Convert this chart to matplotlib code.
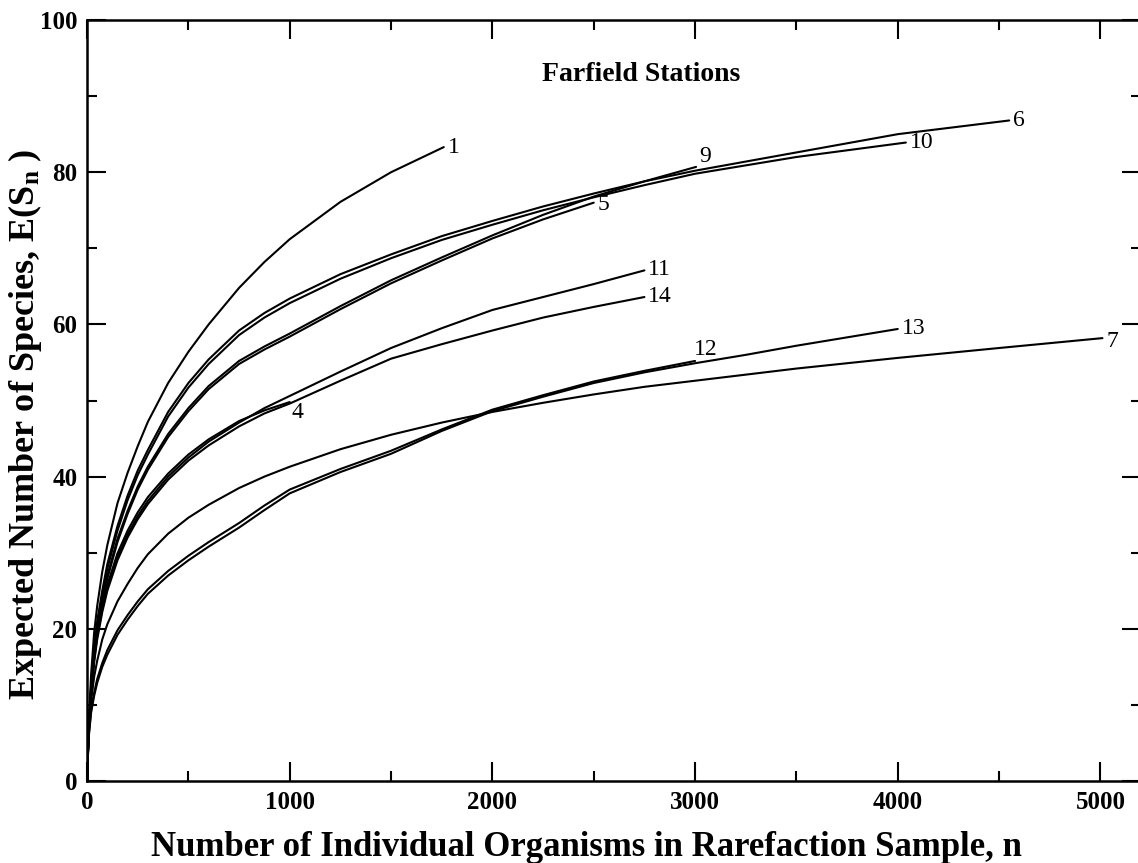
import matplotlib
matplotlib.use("Agg")
import matplotlib.pyplot as plt

plt.rcParams['font.family'] = ['Liberation Serif', 'DejaVu Serif']
plt.rcParams['mathtext.fontset'] = 'custom'
plt.rcParams['mathtext.rm'] = 'Liberation Serif:bold'
plt.rcParams['mathtext.it'] = 'Liberation Serif:bold'
plt.rcParams['mathtext.bf'] = 'Liberation Serif:bold'

# rarefaction curves: sample size n -> E(S_n)
lo = [0, 5, 10, 20, 35, 50, 75, 100, 150, 200, 250, 300, 400, 500, 600, 750, 875, 1000]

n1 = lo + [1250, 1500, 1760]
e1 = [0, 4.6, 8.5, 14, 19.5, 23, 27.5, 31, 36.5, 40.5, 44, 47.2, 52.3, 56.4, 60, 64.8, 68.2, 71.2,
      76.1, 80, 83.3]

n4 = lo
e4 = [0, 4.3, 7.6, 11.8, 16.2, 19.3, 23, 25.8, 29.9, 32.9, 35.3, 37.3, 40.4, 42.9, 44.9, 47.3,
      48.7, 49.8]

n5 = lo + [1250, 1500, 1750, 2000, 2250, 2500]
e5 = [0, 4.3, 7.6, 11.7, 16.4, 19.6, 23.4, 26.6, 31.4, 35.1, 38.3, 40.9, 45.2, 48.6, 51.5, 54.8,
      56.7, 58.4, 62.0, 65.4, 68.4, 71.3, 73.8, 76.0]

n6 = lo + [1250, 1500, 1750, 2000, 2250, 2500, 2750, 3000, 3500, 4000, 4550]
e6 = [0, 4.5, 8, 12.5, 17.5, 21, 25, 28.5, 33.5, 37.5, 40.8, 43.5, 48.5, 52.3, 55.4, 59.2, 61.5, 63.4,
      66.6, 69.2, 71.6, 73.6, 75.5, 77.2, 78.8, 80.2, 82.6, 85.0, 86.8]

n7 = lo + [1250, 1500, 1750, 2000, 2250, 2500, 2750, 3000, 3500, 4000, 4500, 5010]
e7 = [0, 4, 7, 10.5, 13.7, 15.8, 18.6, 20.6, 23.6, 25.9, 28, 29.8, 32.5, 34.6, 36.3, 38.5, 40, 41.3,
      43.6, 45.5, 47.1, 48.5, 49.7, 50.8, 51.8, 52.6, 54.2, 55.6, 56.9, 58.2]

n9 = lo + [1250, 1500, 1750, 2000, 2250, 2500, 2750, 3005]
e9 = [0, 4.4, 7.8, 12, 16.8, 20, 23.8, 27, 31.8, 35.5, 38.7, 41.3, 45.6, 49, 51.9, 55.2, 57.1, 58.8,
      62.4, 65.8, 68.8, 71.7, 74.4, 76.8, 78.8, 80.7]

n10 = lo + [1250, 1500, 1750, 2000, 2250, 2500, 2750, 3000, 3500, 4040]
e10 = [0, 4.4, 7.8, 12.2, 17.1, 20.5, 24.4, 27.9, 32.9, 36.9, 40.2, 42.9, 47.9, 51.7, 54.8, 58.6,
       60.9, 62.8, 66, 68.7, 71.1, 73.1, 75, 76.7, 78.3, 79.8, 82.0, 83.9]

n11 = lo + [1250, 1500, 1750, 2000, 2250, 2500, 2750]
e11 = [0, 4.3, 7.5, 11.6, 15.9, 19, 22.6, 25.4, 29.4, 32.4, 34.8, 36.8, 40, 42.5, 44.6, 47.1, 49,
       50.6, 53.8, 56.9, 59.5, 61.9, 63.6, 65.3, 67.1]

n12 = lo + [1250, 1500, 1750, 2000, 2250, 2500, 2750, 3000]
e12 = [0, 3.9, 6.5, 9.3, 11.6, 13.4, 15.5, 17.2, 19.8, 21.8, 23.6, 25.2, 27.6, 29.6, 31.4, 33.9,
       36.2, 38.3, 41.0, 43.4, 46.2, 48.8, 50.7, 52.5, 53.9, 55.2]

n13 = lo + [1250, 1500, 1750, 2000, 2250, 2500, 2750, 3000, 3250, 3500, 3750, 4000]
e13 = [0, 3.8, 6.3, 9, 11.2, 12.9, 15, 16.6, 19.2, 21.2, 23, 24.6, 27, 29, 30.8, 33.3, 35.6, 37.8,
       40.6, 43.0, 46.0, 48.6, 50.5, 52.3, 53.7, 54.9, 56.0, 57.2, 58.3, 59.4]

n14 = lo + [1250, 1500, 1750, 2000, 2250, 2500, 2750]
e14 = [0, 4.3, 7.4, 11.4, 15.6, 18.6, 22.2, 25, 29, 32, 34.4, 36.4, 39.6, 42.1, 44.1, 46.6, 48.3,
       49.6, 52.6, 55.5, 57.4, 59.2, 60.9, 62.3, 63.6]

curves = [("1", n1, e1, (4, 0)), ("4", n4, e4, (2, -10)), ("5", n5, e5, (4, -2)),
          ("6", n6, e6, (4, 0)), ("7", n7, e7, (4, -3)), ("9", n9, e9, (3, 10)),
          ("10", n10, e10, (4, 0)), ("11", n11, e11, (4, 1)), ("12", n12, e12, (-1, 11)),
          ("13", n13, e13, (4, 0)), ("14", n14, e14, (4, 1))]

fig = plt.figure(figsize=(11.38, 8.63), dpi=100)
ax = fig.add_axes([0.0765, 0.095, 0.9261, 0.8818])

for name, xs, ys, off in curves:
    ax.plot(xs, ys, color='black', lw=1.5, solid_capstyle='round')
    ax.annotate(name, (xs[-1], ys[-1]), xytext=off, textcoords='offset pixels',
                ha='left', va='center', fontsize=17)

ax.set_xlim(0, 5200)
ax.set_ylim(0, 100)
ax.set_xticks([0, 1000, 2000, 3000, 4000, 5000])
ax.set_xticks(range(500, 5000, 1000), minor=True)
ax.set_yticks([0, 20, 40, 60, 80, 100])
ax.set_yticks(range(10, 100, 20), minor=True)
ax.tick_params(which='both', direction='in', top=True, right=True, width=1.5,
               labelsize=18, pad=7)
ax.tick_params(which='major', length=14)
ax.tick_params(which='minor', length=7)
for lab in ax.get_xticklabels() + ax.get_yticklabels():
    lab.set_fontweight('bold')
for sp in ax.spines.values():
    sp.set_linewidth(1.8)

ax.text(0.526, 0.928, 'Farfield Stations', transform=ax.transAxes, ha='center',
        va='center', fontsize=20, fontweight='bold')

ax.set_xlabel('Number of Individual Organisms in Rarefaction Sample, n',
              fontsize=25, fontweight='bold')
ax.xaxis.set_label_coords(0.474, -0.066)
ax.set_ylabel('Expected Number of Species, E(S$_{n}$ )', fontsize=26, fontweight='bold')
ax.yaxis.set_label_coords(-0.041, 0.469)

fig.savefig('out.png', dpi=100)
